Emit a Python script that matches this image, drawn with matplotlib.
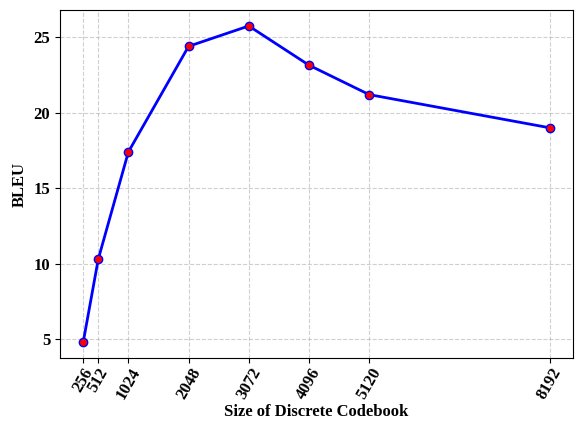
import matplotlib
matplotlib.use("Agg")
import matplotlib.pyplot as plt

plt.rcParams['font.family'] = ['Liberation Serif', 'DejaVu Serif']
plt.rcParams['font.weight'] = 'bold'

codebook_sizes = [256, 512, 1024, 2048, 3072, 4096, 5120, 8192]
bleu_scores = [4.8, 10.3, 17.4, 24.4, 25.75, 23.15, 21.2, 19.0]

fig, ax = plt.subplots(figsize=(5.76, 4.23), dpi=100)
ax.plot(codebook_sizes, bleu_scores, color='blue', linewidth=2,
        marker='o', markersize=6, markerfacecolor='red', markeredgecolor='blue')

ax.set_xticks(codebook_sizes)
ax.set_xticklabels([str(s) for s in codebook_sizes], rotation=60, fontsize=12, fontweight='bold')
ax.tick_params(axis='x', pad=2)
ax.set_yticks([5, 10, 15, 20, 25])
for lbl in ax.get_yticklabels():
    lbl.set_fontsize(12)
    lbl.set_fontweight('bold')

ax.set_xlabel("Size of Discrete Codebook", fontsize=12, fontweight='bold', labelpad=1)
ax.set_ylabel("BLEU", fontsize=12, fontweight='bold')
ax.grid(True, linestyle='--', alpha=0.6)

plt.subplots_adjust(left=0.104, right=0.995, top=0.976, bottom=0.154)
plt.savefig("out.png")
